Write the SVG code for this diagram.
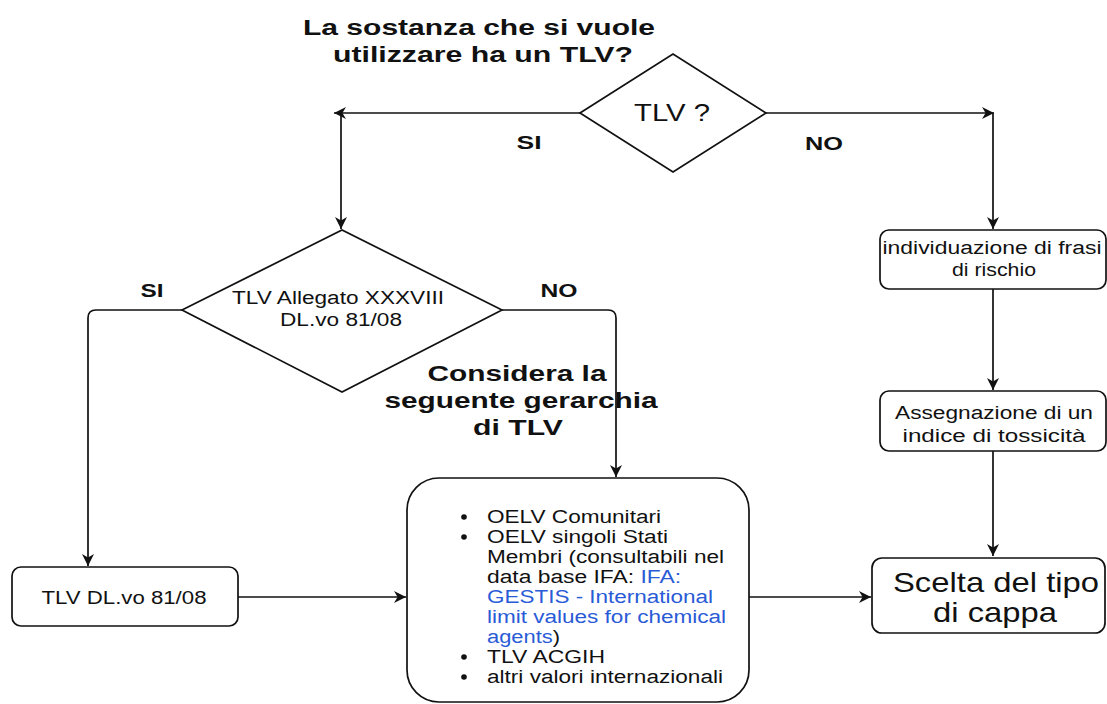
<svg xmlns="http://www.w3.org/2000/svg" width="1107" height="704" viewBox="0 0 1107 704">
<defs>
<style>
.shape{fill:#fff;stroke:#111;stroke-width:1.7}
.line{fill:none;stroke:#111;stroke-width:1.7}
.t{font-family:"Liberation Sans",Arial,sans-serif;fill:#111}
.b{font-weight:bold}
.blue{fill:#2a5bd7}
</style>
<marker id="arr" viewBox="0 0 10 10" refX="10" refY="5" markerWidth="13" markerHeight="12" markerUnits="userSpaceOnUse" orient="auto">
<path d="M0,0 L10,5 L0,10 L3,5 z" fill="#111"/>
</marker>
</defs>
<rect width="1107" height="704" fill="#fff"/>

<g id="title">
<text class="t b" x="479" y="35" font-size="22" text-anchor="middle" textLength="352" lengthAdjust="spacingAndGlyphs">La sostanza che si vuole</text>
<text class="t b" x="483" y="62" font-size="22" text-anchor="middle" textLength="300" lengthAdjust="spacingAndGlyphs">utilizzare ha un TLV?</text>
</g>

<g id="connectors">
<line class="line" x1="580" y1="113" x2="334" y2="113" marker-end="url(#arr)"/>
<line class="line" x1="341" y1="113" x2="341" y2="229" marker-end="url(#arr)"/>
<line class="line" x1="766" y1="113" x2="994" y2="113" marker-end="url(#arr)"/>
<line class="line" x1="993" y1="113" x2="993" y2="229" marker-end="url(#arr)"/>
<path class="line" d="M182,310 L96,310 Q88,310 88,318 L88,566" marker-end="url(#arr)"/>
<path class="line" d="M502,310 L608,310 Q616,310 616,318 L616,477" marker-end="url(#arr)"/>
<line class="line" x1="238" y1="597" x2="406" y2="597" marker-end="url(#arr)"/>
<line class="line" x1="749" y1="597" x2="871" y2="597" marker-end="url(#arr)"/>
<line class="line" x1="993" y1="289" x2="993" y2="390" marker-end="url(#arr)"/>
<line class="line" x1="993" y1="451" x2="993" y2="556" marker-end="url(#arr)"/>
</g>

<g id="labels">
<text class="t b" x="529" y="149" font-size="18" text-anchor="middle" textLength="25" lengthAdjust="spacingAndGlyphs">SI</text>
<text class="t b" x="824" y="150" font-size="18" text-anchor="middle" textLength="38" lengthAdjust="spacingAndGlyphs">NO</text>
<text class="t b" x="152" y="297" font-size="18" text-anchor="middle" textLength="23" lengthAdjust="spacingAndGlyphs">SI</text>
<text class="t b" x="559" y="297" font-size="18" text-anchor="middle" textLength="37" lengthAdjust="spacingAndGlyphs">NO</text>
<text class="t b" x="517" y="381" font-size="22" text-anchor="middle" textLength="179" lengthAdjust="spacingAndGlyphs">Considera la</text>
<text class="t b" x="521" y="408" font-size="22" text-anchor="middle" textLength="273" lengthAdjust="spacingAndGlyphs">seguente gerarchia</text>
<text class="t b" x="518" y="435" font-size="22" text-anchor="middle" textLength="90" lengthAdjust="spacingAndGlyphs">di TLV</text>
</g>

<g id="tlv-decision">
<polygon class="shape" points="580,113 673,54 766,113 673,172"/>
<text class="t" x="672" y="121" font-size="23" text-anchor="middle" textLength="76" lengthAdjust="spacingAndGlyphs">TLV ?</text>
</g>

<g id="allegato-decision">
<polygon class="shape" points="182,310 342,230 502,310 342,392"/>
<text class="t" x="338" y="304" font-size="18" text-anchor="middle" textLength="212" lengthAdjust="spacingAndGlyphs">TLV Allegato XXXVIII</text>
<text class="t" x="341" y="326" font-size="18" text-anchor="middle" textLength="122" lengthAdjust="spacingAndGlyphs">DL.vo 81/08</text>
</g>

<g id="tlv-dlvo">
<rect class="shape" x="12" y="567" width="226" height="59" rx="9"/>
<text class="t" x="124" y="604" font-size="18" text-anchor="middle" textLength="165" lengthAdjust="spacingAndGlyphs">TLV DL.vo 81/08</text>
</g>

<g id="gerarchia">
<rect class="shape" x="407" y="478" width="342" height="224" rx="32"/>
<g fill="#111">
<circle cx="464" cy="517" r="2.8"/>
<circle cx="464" cy="537" r="2.8"/>
<circle cx="464" cy="657" r="2.8"/>
<circle cx="464" cy="677" r="2.8"/>
</g>
<text class="t" x="487" y="523" font-size="18" textLength="174" lengthAdjust="spacingAndGlyphs">OELV Comunitari</text>
<text class="t" x="487" y="543" font-size="18" textLength="181" lengthAdjust="spacingAndGlyphs">OELV singoli Stati</text>
<text class="t" x="487" y="563" font-size="18" textLength="237" lengthAdjust="spacingAndGlyphs">Membri (consultabili nel</text>
<text class="t" x="487" y="583" font-size="18" textLength="194" lengthAdjust="spacingAndGlyphs">data base IFA: <tspan class="blue">IFA:</tspan></text>
<text class="t blue" x="487" y="603" font-size="18" textLength="226" lengthAdjust="spacingAndGlyphs">GESTIS - International</text>
<text class="t blue" x="487" y="623" font-size="18" textLength="239" lengthAdjust="spacingAndGlyphs">limit values for chemical</text>
<text class="t" x="487" y="643" font-size="18" textLength="73" lengthAdjust="spacingAndGlyphs"><tspan class="blue">agents</tspan>)</text>
<text class="t" x="487" y="663" font-size="18" textLength="118" lengthAdjust="spacingAndGlyphs">TLV ACGIH</text>
<text class="t" x="487" y="683" font-size="18" textLength="236" lengthAdjust="spacingAndGlyphs">altri valori internazionali</text>
</g>

<g id="frasi-rischio">
<rect class="shape" x="880" y="230" width="226" height="59" rx="9"/>
<text class="t" x="992" y="254" font-size="18" text-anchor="middle" textLength="219" lengthAdjust="spacingAndGlyphs">individuazione di frasi</text>
<text class="t" x="994" y="276" font-size="18" text-anchor="middle" textLength="84" lengthAdjust="spacingAndGlyphs">di rischio</text>
</g>

<g id="indice-tossicita">
<rect class="shape" x="880" y="391" width="226" height="60" rx="9"/>
<text class="t" x="994" y="419" font-size="18" text-anchor="middle" textLength="198" lengthAdjust="spacingAndGlyphs">Assegnazione di un</text>
<text class="t" x="994" y="442" font-size="18" text-anchor="middle" textLength="183" lengthAdjust="spacingAndGlyphs">indice di tossicità</text>
</g>

<g id="scelta-cappa">
<rect class="shape" x="872" y="558" width="233" height="75" rx="10"/>
<text class="t" x="996" y="592" font-size="28" text-anchor="middle" textLength="206" lengthAdjust="spacingAndGlyphs">Scelta del tipo</text>
<text class="t" x="995" y="622" font-size="28" text-anchor="middle" textLength="124" lengthAdjust="spacingAndGlyphs">di cappa</text>
</g>
</svg>
